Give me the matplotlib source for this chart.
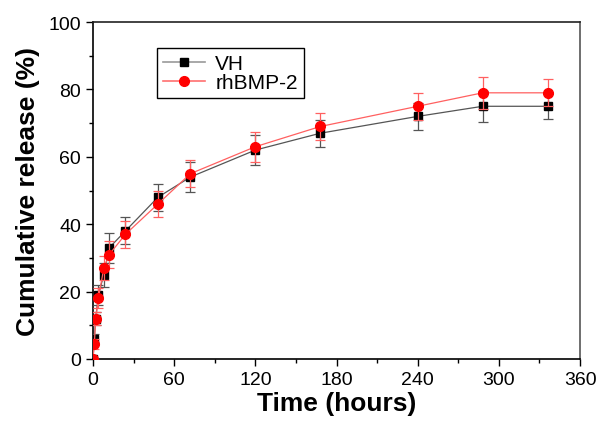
import matplotlib
matplotlib.use('Agg')
import matplotlib.pyplot as plt
from matplotlib.lines import Line2D
from matplotlib.ticker import MultipleLocator

plt.rcParams['font.family'] = ['Liberation Sans', 'DejaVu Sans']

# ── data ───────────────────────────────────────────────────────────────────────
time_h = [0, 1, 2, 4, 8, 12, 24, 48, 72, 120, 168, 240, 288, 336]
vh = [0, 6, 12, 19, 25, 33, 38, 48, 54, 62, 67, 72, 75, 75]
vh_err = [0, 1.5, 2, 3, 3.5, 4.5, 4, 4, 4.5, 4.5, 4, 4, 4.6, 3.7]
bmp = [0, 4.5, 12, 18, 27, 31, 37, 46, 55, 63, 69, 75, 79, 79]
bmp_err = [0, 1.5, 2, 3, 3.5, 4, 4, 4, 4, 4.5, 4, 4, 4.7, 4]

BLACK = '#000000'
RED = '#FF0000'
VH_LINE = '#555555'
BMP_LINE = '#FF6060'

fig = plt.figure(figsize=(5.98, 4.27), dpi=100)
ax = fig.add_axes([0.1555, 0.157, 0.8145, 0.789])

ax.errorbar(time_h, vh, yerr=vh_err, color=VH_LINE, lw=0.9,
            marker='s', ms=6, mfc=BLACK, mec=BLACK,
            ecolor=VH_LINE, elinewidth=0.9, capsize=3.5, capthick=0.9,
            zorder=3)
ax.errorbar(time_h, bmp, yerr=bmp_err, color=BMP_LINE, lw=0.9,
            marker='o', ms=7, mfc=RED, mec=RED,
            ecolor=BMP_LINE, elinewidth=0.9, capsize=3.5, capthick=0.9,
            zorder=4)

ax.set_xlim(0, 360)
ax.set_ylim(0, 100)
ax.xaxis.set_major_locator(MultipleLocator(60))
ax.xaxis.set_minor_locator(MultipleLocator(30))
ax.yaxis.set_major_locator(MultipleLocator(20))
ax.yaxis.set_minor_locator(MultipleLocator(10))
ax.tick_params(which='major', direction='out', length=5, width=1, labelsize=14)
ax.tick_params(which='minor', direction='out', length=3, width=1)
ax.tick_params(top=False, right=False)
for spine in ax.spines.values():
    spine.set_linewidth(1.2)
ax.spines['top'].set_color('#222222')
ax.spines['right'].set_color('#555555')

ax.set_xlabel('Time (hours)', fontsize=19, fontweight='bold', labelpad=2)
ax.set_ylabel('Cumulative release (%)', fontsize=19, fontweight='bold', labelpad=6)

handles = [
    Line2D([], [], color='#999999', lw=1.2, marker='s', ms=6, mfc=BLACK, mec=BLACK, label='VH'),
    Line2D([], [], color='#FF7070', lw=1.2, marker='o', ms=7, mfc=RED, mec=RED, label='rhBMP-2'),
]
leg = ax.legend(handles=handles, loc='upper left', bbox_to_anchor=(0.131, 0.923), fontsize=15,
                frameon=True, fancybox=False, edgecolor=BLACK, framealpha=1,
                borderpad=0.3, labelspacing=0.0, handlelength=2.0,
                handletextpad=0.5, borderaxespad=0)
leg.get_frame().set_linewidth(1.0)

fig.savefig('out.png', dpi=100)
